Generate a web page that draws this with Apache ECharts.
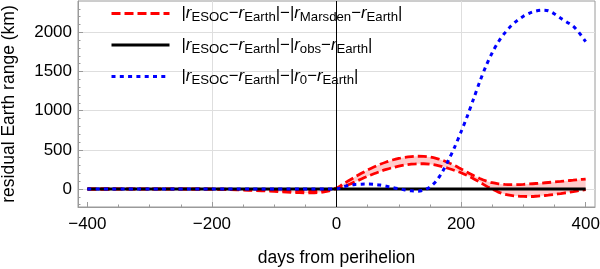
<!DOCTYPE html>
<html>
<head>
<meta charset="utf-8">
<script src="https://cdn.jsdelivr.net/npm/echarts@6.0.0/dist/echarts.min.js"></script>
<style>
  html, body { margin: 0; padding: 0; background: #fff; }
  #chart { width: 600px; height: 269px; }
</style>
</head>
<body>
<div id="chart"></div>
<script>
// days from perihelion (x values shared by all curves)
var days = [-400, -380, -360, -340, -320, -300, -280, -260, -240, -220,
            -200, -180, -160, -140, -120, -100, -80, -60, -40, -20,
            0,
            10, 20, 30, 40, 50, 60, 70, 80, 90, 100,
            110, 120, 130, 140, 150, 160, 170, 180, 190, 200,
            210, 220, 230, 240, 250, 260, 270, 280, 290, 300,
            310, 320, 330, 340, 350, 360, 370, 380, 390, 400];

// |r_ESOC - r_Earth| - |r_Marsden - r_Earth|, upper and lower edge of the band (km)
var marsdenUpper = [4, 3, 3, 2, 2, 2, 1, 1, 0, 0,
                    -1, -3, -6, -10, -15, -21, -27, -31, -32, -22,
                    12,
                    60, 108, 155, 200, 242, 280, 315, 345, 370, 390,
                    405, 414, 418, 416, 408, 392, 368, 335, 297, 255,
                    213, 172, 135, 103, 80, 66, 58, 55, 56, 59,
                    64, 70, 76, 83, 90, 97, 105, 112, 120, 127];
var marsdenLower = [-4, -4, -3, -3, -3, -2, -2, -2, -2, -2,
                    -3, -6, -10, -16, -23, -31, -40, -47, -50, -38,
                    3,
                    30, 58, 92, 128, 163, 195, 224, 250, 273, 292,
                    307, 317, 322, 322, 316, 304, 286, 262, 236, 207,
                    172, 132, 88, 40, -2, -40, -66, -82, -91, -95,
                    -96, -93, -87, -79, -69, -58, -46, -34, -21, -9];

// |r_ESOC - r_Earth| - |r_obs - r_Earth|
var obsValues = [0, 0, 0, 0, 0, 0, 0, 0, 0, 0,
                 0, 0, 0, 0, 0, 0, 0, 0, 0, 0,
                 0,
                 0, 0, 0, 0, 0, 0, 0, 0, 0, 0,
                 0, 0, 0, 0, 0, 0, 0, 0, 0, 0,
                 0, 0, 0, 0, 0, 0, 0, 0, 0, 0,
                 0, 0, 0, 0, 0, 0, 0, 0, 0, 0];

// |r_ESOC - r_Earth| - |r_0 - r_Earth|
var r0Values = [0, 0, 0, 0, 0, 0, 0, 0, 0, 0,
                0, 0, 0, 0, 0, 0, 0, 0, 0, 0,
                2,
                27, 47, 58, 62, 63, 60, 50, 35, 18, 2,
                -12, -24, -28, -15, 25, 100, 220, 370, 540, 730,
                930, 1150, 1370, 1570, 1740, 1880, 1990, 2080, 2150, 2205,
                2245, 2272, 2283, 2275, 2235, 2180, 2130, 2078, 1990, 1880];

var xTicks = [-400, -200, 0, 200, 400];
var xMinorTicks = [-350, -300, -250, -150, -100, -50, 50, 100, 150, 250, 300, 350];
var yTicks = [0, 500, 1000, 1500, 2000];
var yMinorTicks = [-200, -100, 100, 200, 300, 400, 600, 700, 800, 900, 1100, 1200,
                   1300, 1400, 1600, 1700, 1800, 1900, 2100, 2200, 2300];

var legendNames = ['marsden', 'obs', 'r0'];
var legendLabels = {
  marsden: '{sp|}{n||}{r|r}{s|ESOC}{n|\u2212}{r|r}{s|Earth}{n||}{n|\u2212}{n||}{r|r}{s|Marsden}{n|\u2212}{r|r}{s|Earth}{n||}',
  obs: '{sp|}{n||}{r|r}{s|ESOC}{n|\u2212}{r|r}{s|Earth}{n||}{n|\u2212}{n||}{r|r}{s|obs}{n|\u2212}{r|r}{s|Earth}{n||}',
  r0: '{sp|}{n||}{r|r}{s|ESOC}{n|\u2212}{r|r}{s|Earth}{n||}{n|\u2212}{n||}{r|r}{s|0}{n|\u2212}{r|r}{s|Earth}{n||}'
};

function pairs(ys) {
  return days.map(function (d, i) { return [d, ys[i]]; });
}

// pink band between the two Marsden curves, drawn once through the axes
function renderBand(params, api) {
  if (params.dataIndex !== 0) return null;
  var pts = [];
  for (var i = 0; i < days.length; i++) pts.push(api.coord([days[i], marsdenUpper[i]]));
  for (var j = days.length - 1; j >= 0; j--) pts.push(api.coord([days[j], marsdenLower[j]]));
  return {
    type: 'polygon',
    shape: { points: pts },
    style: { fill: 'rgba(255,0,0,0.2)' },
    silent: true
  };
}

var font = 'Liberation Sans';
var frameColor = '#9a9a9a';
var gridColor = '#dedede';
var minus = function (v) { return String(v).replace('-', '\u2212'); };

var myChart = echarts.init(document.getElementById('chart'), null, { renderer: 'canvas' });
var option = {
  animation: false,
  grid: {
    left: 78, right: 5, top: 1, bottom: 62,
    outerBoundsMode: 'none', containLabel: false,
    show: true, borderColor: frameColor, borderWidth: 1
  },
  legend: {
    data: legendNames,
    orient: 'vertical',
    left: 110, top: 5,
    padding: 0,
    itemWidth: 58, itemHeight: 14, itemGap: 12.5,
    lineStyle: { width: 3 },
    itemStyle: { opacity: 0 },
    formatter: function (name) { return legendLabels[name]; },
    textStyle: {
      fontFamily: font, color: '#000',
      rich: {
        sp: { width: 7 },
        n: { fontFamily: font, fontSize: 16.8, color: '#000' },
        r: { fontFamily: font, fontSize: 16.8, fontStyle: 'italic', color: '#000' },
        s: { fontFamily: font, fontSize: 13.2, color: '#000', padding: [8, 0, 0, 0] }
      }
    }
  },
  xAxis: [
    {
      type: 'value', min: -415, max: 415,
      name: 'days from perihelion', nameLocation: 'middle', nameGap: 42,
      nameTextStyle: { fontFamily: font, fontSize: 17.5, color: '#000' },
      axisLine: { show: true, onZero: false, lineStyle: { color: frameColor } },
      axisTick: { inside: true, length: 5, customValues: xTicks, lineStyle: { color: frameColor } },
      axisLabel: { customValues: xTicks, formatter: minus, fontFamily: font, fontSize: 17, color: '#000', margin: 9 },
      splitLine: { show: true, lineStyle: { color: ['rgba(0,0,0,0)', gridColor, gridColor, gridColor, 'rgba(0,0,0,0)'] } }
    },
    {
      type: 'value', min: -415, max: 415, position: 'bottom',
      axisLine: { show: false, onZero: false },
      axisTick: { inside: true, length: 2.5, customValues: xMinorTicks, lineStyle: { color: frameColor } },
      axisLabel: { show: false },
      splitLine: { show: false }
    }
  ],
  yAxis: [
    {
      type: 'value', min: -230, max: 2400,
      name: 'residual Earth range (km)', nameLocation: 'middle', nameGap: 60,
      nameTextStyle: { fontFamily: font, fontSize: 17.5, color: '#000' },
      axisLine: { show: true, onZero: false, lineStyle: { color: frameColor } },
      axisTick: { inside: true, length: 5, customValues: yTicks, lineStyle: { color: frameColor } },
      axisLabel: { customValues: yTicks, formatter: minus, fontFamily: font, fontSize: 17, color: '#000', margin: 6 },
      splitLine: { show: true, lineStyle: { color: gridColor } }
    },
    {
      type: 'value', min: -230, max: 2400, position: 'left',
      axisLine: { show: false, onZero: false },
      axisTick: { inside: true, length: 2.5, customValues: yMinorTicks, lineStyle: { color: frameColor } },
      axisLabel: { show: false },
      splitLine: { show: false }
    }
  ],
  series: [
    {
      name: 'band', type: 'custom', renderItem: renderBand,
      data: pairs(marsdenUpper), clip: true, silent: true, z: 1
    },
    {
      name: 'marsden', type: 'line', data: pairs(marsdenUpper), symbol: 'none', smooth: 0.3,
      lineStyle: { color: '#ff0000', width: 2.8, type: [9, 4] }, itemStyle: { color: '#ff0000' }, z: 2
    },
    {
      name: 'marsden', type: 'line', data: pairs(marsdenLower), symbol: 'none', smooth: 0.3,
      lineStyle: { color: '#ff0000', width: 2.8, type: [9, 4] }, itemStyle: { color: '#ff0000' }, z: 2
    },
    {
      name: 'obs', type: 'line', data: pairs(obsValues), symbol: 'none', smooth: 0.3,
      lineStyle: { color: '#000', width: 2.8 }, itemStyle: { color: '#000' }, z: 3,
      markLine: {
        silent: true, symbol: ['none', 'none'], label: { show: false },
        lineStyle: { color: '#000', width: 1, type: 'solid' },
        data: [{ xAxis: 0 }]
      }
    },
    {
      name: 'r0', type: 'line', data: pairs(r0Values), symbol: 'none', smooth: 0.3,
      lineStyle: { color: '#0000ff', width: 3, type: [4, 4.3] }, itemStyle: { color: '#0000ff' }, z: 4
    }
  ]
};
myChart.setOption(option);
</script>
</body>
</html>
